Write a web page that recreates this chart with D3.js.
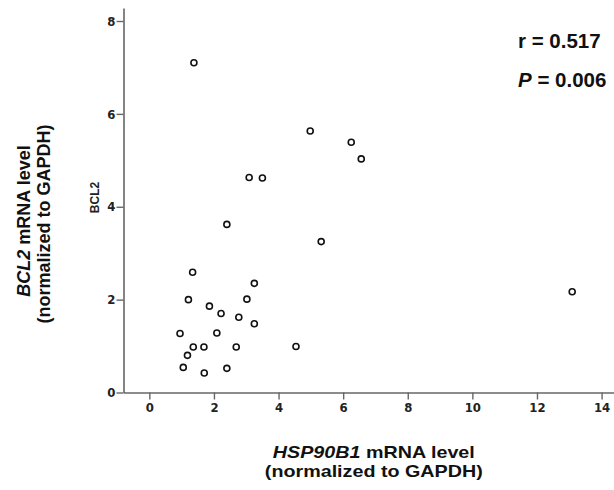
<!DOCTYPE html>
<html>
<head>
<meta charset="utf-8">
<script src="https://cdn.jsdelivr.net/npm/d3@7"></script>
<style>
  html, body { margin: 0; padding: 0; background: #fff; }
  svg { display: block; }
</style>
</head>
<body>
<svg id="chart" width="614" height="490"></svg>
<script>
// HSP90B1 expression (x) vs BCL2 expression (y), both normalized to GAPDH
const hsp90b1 = [2.40, 5.32, 1.34, 3.25, 1.21, 3.02, 1.86, 2.22, 2.77, 3.25,
                 0.95, 2.09, 1.36, 1.69, 2.69, 4.54, 1.18, 1.05, 1.70, 2.40,
                 1.38, 4.98, 6.25, 6.56, 3.09, 3.50, 13.09];
const bcl2    = [3.62, 3.25, 2.59, 2.35, 2.00, 2.01, 1.86, 1.70, 1.62, 1.48,
                 1.27, 1.28, 0.98, 0.98, 0.98, 0.99, 0.80, 0.54, 0.42, 0.52,
                 7.10, 5.63, 5.39, 5.03, 4.63, 4.62, 2.17];
const xTicks = [0, 2, 4, 6, 8, 10, 12, 14];
const yTicks = [0, 2, 4, 6, 8];
const statLines = [{ label: "r", value: "0.517" }, { label: "P", value: "0.006" }];

const svg = d3.select("#chart");
const sans = "'Liberation Sans', Arial, Helvetica, sans-serif";
const narrow = "'Liberation Sans Narrow', 'Arial Narrow', 'DejaVu Sans Condensed', sans-serif";
const axisColor = "#666";

const x = d3.scaleLinear().domain([-0.8, 14.4]).range([123.5, 614.5]);
const y = d3.scaleLinear().domain([0, 8.28]).range([392.5, 8]);

// axes
const gx = svg.append("g")
  .attr("transform", `translate(0,${y(0)})`)
  .call(d3.axisBottom(x).tickValues(xTicks).tickFormat(d3.format("d"))
    .tickSize(7).tickSizeOuter(0).tickPadding(3));
const gy = svg.append("g")
  .attr("transform", `translate(${x(-0.8)},0)`)
  .call(d3.axisLeft(y).tickValues(yTicks).tickFormat(d3.format("d"))
    .tickSize(7).tickSizeOuter(0).tickPadding(1));
[gx, gy].forEach(g => {
  g.select(".domain").attr("stroke", axisColor).attr("stroke-width", 1.6);
  g.selectAll(".tick line").attr("stroke", axisColor).attr("stroke-width", 1.4);
  g.selectAll(".tick text")
    .style("font-family", narrow)
    .style("font-stretch", "condensed")
    .style("font-weight", "bold")
    .style("font-size", "13px")
    .attr("fill", "#222");
});

// small variable name beside the y axis
svg.append("text")
  .attr("transform", `translate(98.5,${y(4.2)}) rotate(-90)`)
  .attr("text-anchor", "middle")
  .style("font-family", sans).style("font-weight", "bold").style("font-size", "12px")
  .attr("fill", "#222")
  .text("BCL2");

// scatter points
svg.append("g")
  .selectAll("circle")
  .data(hsp90b1.map((v, i) => ({ x: v, y: bcl2[i] })))
  .join("circle")
  .attr("cx", d => x(d.x))
  .attr("cy", d => y(d.y))
  .attr("r", 3)
  .attr("fill", "#fff")
  .attr("stroke", "#111")
  .attr("stroke-width", 1.6);

// correlation statistics
const stats = svg.append("g")
  .style("font-family", sans).style("font-weight", "bold").style("font-size", "20.5px")
  .attr("fill", "#111");
statLines.forEach((s, i) => {
  const t = stats.append("text").attr("x", 518).attr("y", 47.7 + i * 39.6);
  t.append("tspan").style("font-style", s.label === "P" ? "italic" : "normal").text(s.label);
  t.append("tspan").text(" = " + s.value);
});

// x axis title
const xt = svg.append("g")
  .attr("transform", "translate(373.8,0) scale(1.16,1)")
  .style("font-family", sans).style("font-weight", "bold").style("font-size", "17px")
  .attr("fill", "#111");
const xl1 = xt.append("text").attr("x", 0).attr("y", 458.5).attr("text-anchor", "middle");
xl1.append("tspan").style("font-style", "italic").text("HSP90B1");
xl1.append("tspan").text(" mRNA level");
xt.append("text").attr("x", 0).attr("y", 477.5).attr("text-anchor", "middle")
  .text("(normalized to GAPDH)");

// y axis title
const yt = svg.append("g")
  .style("font-family", sans).style("font-weight", "bold").style("font-size", "18px")
  .attr("fill", "#111");
const yl1 = yt.append("text")
  .attr("transform", "translate(29.5,221) rotate(-90)")
  .attr("text-anchor", "middle");
yl1.append("tspan").style("font-style", "italic").text("BCL2");
yl1.append("tspan").text(" mRNA level");
yt.append("text")
  .attr("transform", "translate(50,224) rotate(-90)")
  .attr("text-anchor", "middle")
  .text("(normalized to GAPDH)");
</script>
</body>
</html>
